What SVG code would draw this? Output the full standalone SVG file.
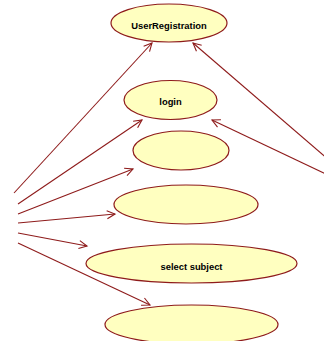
<svg xmlns="http://www.w3.org/2000/svg" width="324" height="341" viewBox="0 0 324 341">
<style>
.uc ellipse{fill:#FFFFC0;stroke:#8E1B1B;stroke-width:1.2}
.uc text{font-family:"Liberation Sans",Arial,sans-serif;font-weight:bold;font-size:9.4px;fill:#000;text-anchor:middle}
#connectors line{stroke:#8E1B1B;stroke-width:1.1;marker-end:url(#arr)}
</style>
<defs>
<marker id="arr" markerUnits="userSpaceOnUse" markerWidth="12" markerHeight="12" refX="9" refY="5" orient="auto">
<path d="M1,1 L9,5 L1,9" fill="none" stroke="#8E1B1B" stroke-width="1.1"/>
</marker>
</defs>
<rect width="324" height="341" fill="#fff"/>
<g id="connectors">
<line x1="14" y1="193" x2="152" y2="43"/>
<line x1="18" y1="204" x2="142" y2="120"/>
<line x1="18" y1="214" x2="133" y2="169"/>
<line x1="18" y1="223" x2="115" y2="214"/>
<line x1="18" y1="233" x2="87" y2="246"/>
<line x1="18" y1="243" x2="150" y2="305"/>
<line x1="330" y1="161" x2="193" y2="43"/>
<line x1="330" y1="176" x2="212" y2="120"/>
</g>
<g id="userRegistration" class="uc"><ellipse cx="169" cy="23" rx="58" ry="19"/><text x="169" y="29">UserRegistration</text></g>
<g id="login" class="uc"><ellipse cx="170.5" cy="100" rx="46.5" ry="19.5"/><text x="170.5" y="105">login</text></g>
<g id="usecase3" class="uc"><ellipse cx="181" cy="150.5" rx="48" ry="19.5"/></g>
<g id="usecase4" class="uc"><ellipse cx="186" cy="204.5" rx="72" ry="19.5"/></g>
<g id="selectSubject" class="uc"><ellipse cx="191.5" cy="263.5" rx="105.5" ry="19.5"/><text x="191.5" y="270">select subject</text></g>
<g id="usecase6" class="uc"><ellipse cx="191.5" cy="324.5" rx="86.5" ry="19.5"/></g>
</svg>
